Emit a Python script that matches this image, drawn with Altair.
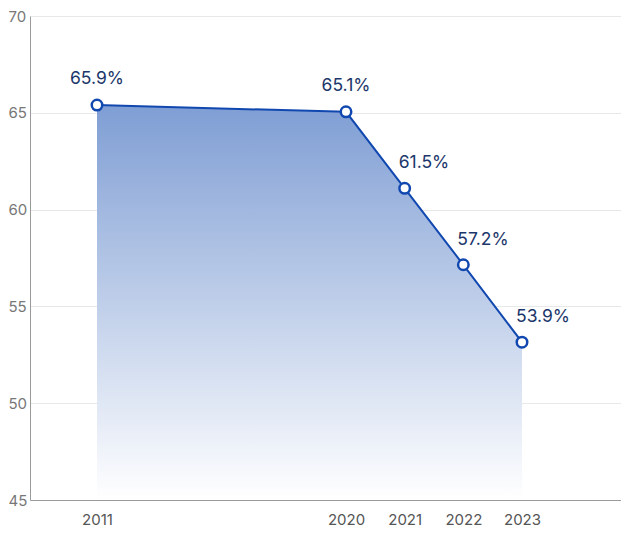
import altair as alt
import pandas as pd

years = [2011, 2020, 2021, 2022, 2023]
values = [65.4, 65.05, 61.1, 57.15, 53.15]
labels = ["65.9%", "65.1%", "61.5%", "57.2%", "53.9%"]

df = pd.DataFrame({"year": years, "value": values, "label": labels})

FONT = "Inter"
LINE = "#1148b0"
TEXT = "#1c376b"

x_enc = alt.X(
    "year:Q",
    scale=alt.Scale(
        domain=[2008.58, 2011, 2020, 2023, 2024.69],
        range=[0, 67, 316, 492, 591],
        zero=False,
        nice=False,
    ),
    axis=alt.Axis(
        values=years,
        format="d",
        title=None,
        grid=False,
        ticks=False,
        labelPadding=12,
        labelFontSize=15,
        labelColor="#555555",
        labelFont=FONT,
        domainColor="#9a9a9a",
        labelFlush=False,
    ),
)
y_enc = alt.Y(
    "value:Q",
    scale=alt.Scale(domain=[45, 70], zero=False, nice=False),
    axis=alt.Axis(
        values=[45, 50, 55, 60, 65, 70],
        title=None,
        grid=True,
        gridColor="#e8e8e8",
        ticks=False,
        labelAlign="left",
        labelPadding=22,
        labelFontSize=15,
        labelColor="#777777",
        labelFont=FONT,
        domainColor="#9a9a9a",
        labelFlush=False,
    ),
)

base = alt.Chart(df)

area = base.mark_area(
    color=alt.Gradient(
        gradient="linear",
        stops=[
            alt.GradientStop(color="#7f9ed4", offset=0),
            alt.GradientStop(color="#ffffff", offset=1),
        ],
        x1=1, x2=1, y1=0, y2=1,
    ),
    opacity=1,
).encode(x=x_enc, y=y_enc, y2=alt.datum(45))

line = base.mark_line(color=LINE, strokeWidth=2).encode(x="year:Q", y="value:Q")

points = base.mark_point(
    filled=True, fill="white", stroke=LINE, strokeWidth=2.5, size=110, opacity=1
).encode(x="year:Q", y="value:Q")

text_center = base.transform_filter(alt.datum.year < 2021).mark_text(
    dy=-26, fontSize=17.5, font=FONT, color=TEXT, baseline="middle", align="center"
).encode(x="year:Q", y="value:Q", text="label:N")

text_left = base.transform_filter(alt.datum.year >= 2021).mark_text(
    dy=-25, dx=-6, fontSize=17.5, font=FONT, color=TEXT, baseline="middle", align="left"
).encode(x="year:Q", y="value:Q", text="label:N")

chart = (area + line + points + text_center + text_left).properties(
    width=591,
    height=484,
    autosize=alt.AutoSizeParams(type="none"),
    padding={"left": 22, "top": 8, "right": 0, "bottom": 30},
).configure_view(stroke=None)

chart.save("out.html", embed_options={"renderer": "svg", "actions": False})
